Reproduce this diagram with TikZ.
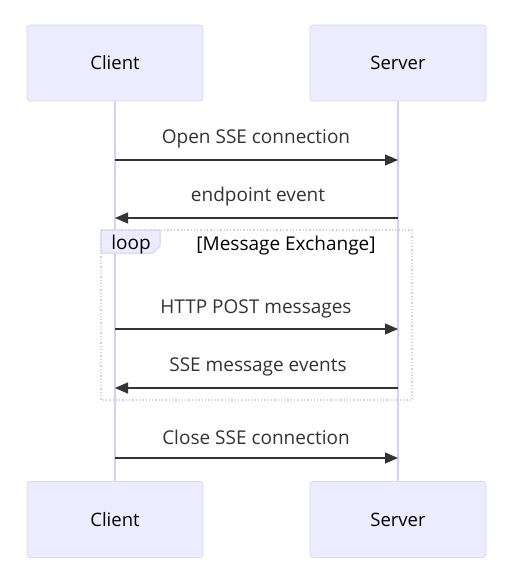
\documentclass[tikz,border=0pt]{standalone}
\usepackage{fontspec}
\setmainfont{Open Sans}
\usetikzlibrary{arrows.meta}
\definecolor{actorfill}{HTML}{ECECFF}
\definecolor{actorline}{HTML}{DCD4F4}
\definecolor{lifeline}{HTML}{D8CFF4}
\definecolor{txt}{HTML}{333333}
\definecolor{loopline}{HTML}{D4CCF0}
\tikzset{
  actor/.style={draw=actorline, fill=actorfill, rounded corners=3pt, line width=0.8pt,
    minimum width=176pt, minimum height=76pt, inner sep=0pt, font=\fontsize{18.5}{20}\selectfont, text=black},
  msg/.style={draw=txt, line width=1.1pt, -{Triangle[length=13pt,width=11pt]}},
  msglabel/.style={font=\fontsize{19}{21}\selectfont, text=txt, inner sep=0pt},
  life/.style={draw=lifeline, line width=1.6pt},
}
\begin{document}
\begin{tikzpicture}[x=1pt,y=-1pt]
\useasboundingbox (0,0) rectangle (528,585);
% lifelines
\coordinate (c1) at (115,101);
\coordinate (c2) at (115,482);
\coordinate (s1) at (398,101);
\coordinate (s2) at (398,482);
\draw[life] (c1) -- (c2);
\draw[life] (s1) -- (s2);
% actors
\node[actor] (ct) at (115,63) {Client};
\node[actor] (st) at (398,63) {Server};
\node[actor] (cb) at (115,519.5) {Client};
\node[actor] (sb) at (398,519.5) {Server};
% loop frame
\draw[loopline, line width=1.3pt, dotted] (101,230) rectangle (412,400);
\fill[actorfill] (101,230) -- (160,230) -- (160,246) -- (153,253) -- (101,253) -- cycle;
\draw[loopline, line width=1pt] (101,230) -- (160,230) -- (160,246) -- (153,253) -- (101,253) -- cycle;
\node[font=\fontsize{19}{21}\selectfont, text=black, inner sep=0pt] (looplbl) at (131,245) {loop};
\node[font=\fontsize{19}{21}\selectfont, text=black, inner sep=0pt] (loopcond) at (286,246) {[Message Exchange]};
% messages
\coordinate (a1s) at (115,160); \coordinate (a1e) at (398,160);
\coordinate (a2s) at (398,218); \coordinate (a2e) at (115,218);
\coordinate (a3s) at (115,329); \coordinate (a3e) at (398,329);
\coordinate (a4s) at (398,388); \coordinate (a4e) at (115,388);
\coordinate (a5s) at (115,458); \coordinate (a5e) at (398,458);
\draw[msg] (a1s) -- (a1e);
\draw[msg] (a2s) -- (a2e);
\draw[msg] (a3s) -- (a3e);
\draw[msg] (a4s) -- (a4e);
\draw[msg] (a5s) -- (a5e);
\node[msglabel] (l1) at (256,139) {Open SSE connection};
\node[msglabel] (l2) at (258,197) {endpoint event};
\node[msglabel] (l3) at (256,309) {HTTP POST messages};
\node[msglabel] (l4) at (258,367) {SSE message events};
\node[msglabel] (l5) at (256,437) {Close SSE connection};
\end{tikzpicture}
\end{document}
